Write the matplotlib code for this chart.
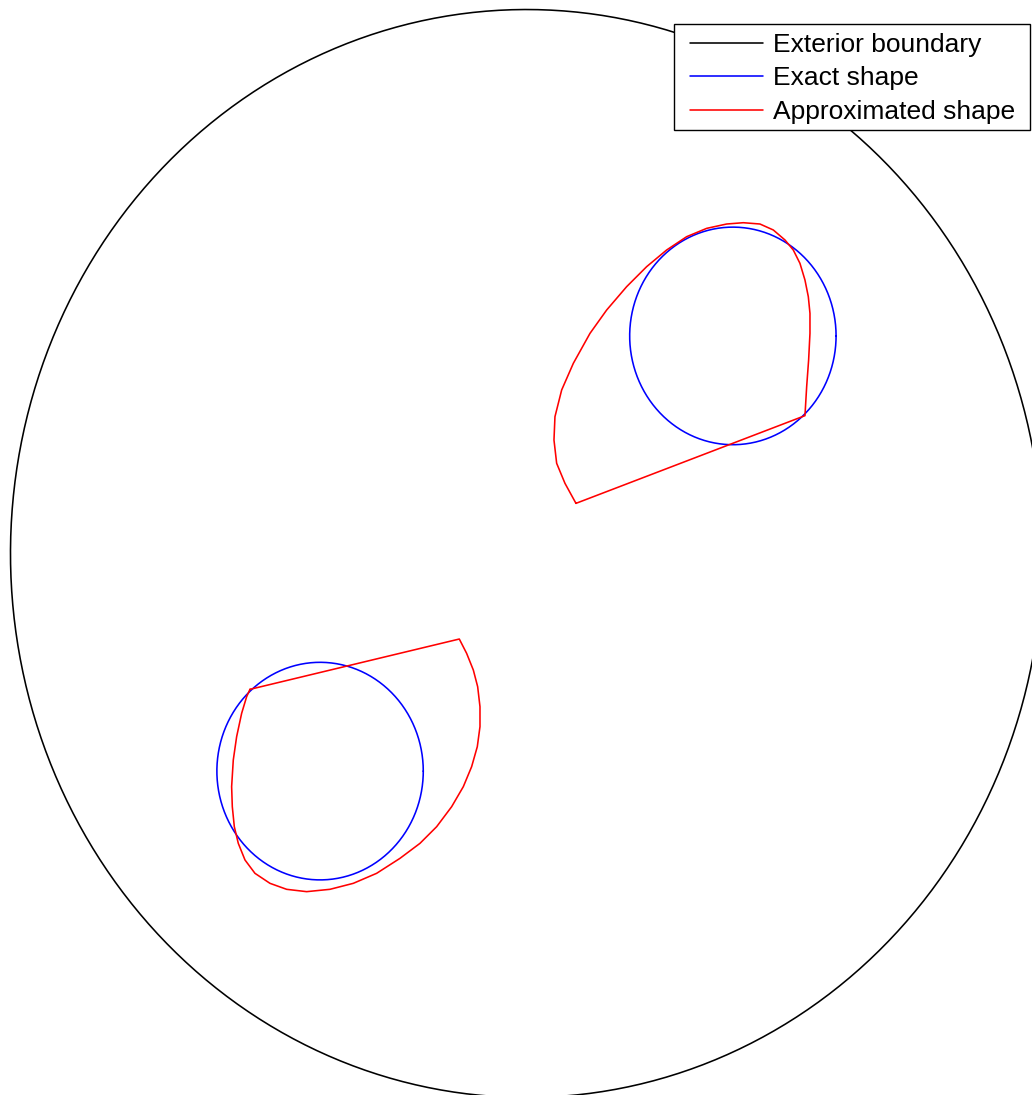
import matplotlib.pyplot as plt
import matplotlib.patches as mpatches
import numpy as np

# exterior boundary and exact inclusions (centre x, centre y, radius)
outer = (0.0, 0.0, 1.0)
exact_circles = [(0.4, 0.4, 0.2), (-0.4, -0.4, 0.2)]

# approximated shapes, points
approx1_x = [0.0959, 0.5397, 0.5430, 0.5468, 0.5494, 0.5494, 0.5462, 0.5397, 0.5300,
             0.5171, 0.5010, 0.4784, 0.4525, 0.4202, 0.3879, 0.3492, 0.3104, 0.2716,
             0.2329, 0.1941, 0.1554, 0.1231, 0.0908, 0.0682, 0.0552, 0.0533, 0.0585,
             0.0746, 0.0959]
approx1_y = [0.0922, 0.2534, 0.3067, 0.3557, 0.4047, 0.4415, 0.4721, 0.5028, 0.5334,
             0.5579, 0.5763, 0.5947, 0.6057, 0.6081, 0.6057, 0.5977, 0.5824, 0.5579,
             0.5273, 0.4905, 0.4476, 0.4047, 0.3496, 0.3006, 0.2515, 0.2086, 0.1658,
             0.1290, 0.0922]

approx2_x = [-0.5359, -0.1302, -0.1160, -0.1030, -0.0946, -0.0901, -0.0901, -0.0953,
             -0.1063, -0.1224, -0.1450, -0.1741, -0.2064, -0.2452, -0.2904, -0.3356,
             -0.3808, -0.4260, -0.4648, -0.4971, -0.5262, -0.5455, -0.5585, -0.5662,
             -0.5701, -0.5714, -0.5682, -0.5617, -0.5520, -0.5423, -0.5359]
approx2_y = [-0.2497, -0.1572, -0.1835, -0.2142, -0.2448, -0.2816, -0.3183, -0.3551,
             -0.3919, -0.4286, -0.4654, -0.5022, -0.5328, -0.5604, -0.5879, -0.6063,
             -0.6173, -0.6216, -0.6173, -0.6063, -0.5879, -0.5634, -0.5328, -0.5022,
             -0.4654, -0.4286, -0.3796, -0.3367, -0.2938, -0.2632, -0.2497]

t = np.linspace(0, 2*np.pi, 500)
lw = 1.15

fig = plt.figure(figsize=(10.32, 10.95), dpi=100)
ax = fig.add_axes([0, 0, 1, 1])

cx, cy, r = outer
ax.plot(cx + r*np.cos(t), cy + r*np.sin(t), color="black", lw=lw,
        solid_capstyle="round", label="Exterior boundary")

for i, (cx, cy, r) in enumerate(exact_circles):
    ax.plot(cx + r*np.cos(t), cy + r*np.sin(t), color="blue", lw=lw,
            solid_capstyle="round", label="Exact shape" if i == 0 else None)

ax.plot(approx1_x, approx1_y, color="red", lw=lw, solid_capstyle="round",
        label="Approximated shape")
ax.plot(approx2_x, approx2_y, color="red", lw=lw, solid_capstyle="round")

ax.set_xlim(-1.0203, 0.9797)
ax.set_ylim(-0.9954, 1.0175)
ax.axis("off")

# legend box (white, black edge) drawn separately so the padding can differ per side
W, H = 1032, 1095
box = mpatches.Rectangle((674/W, 1 - 130/H), (1030-674)/W, (130-24)/H,
                         transform=fig.transFigure, facecolor="white",
                         edgecolor="black", lw=1.0, zorder=4.5)
ax.add_patch(box)

leg = ax.legend(loc="upper left", bbox_to_anchor=(690/W, 1 - 33/H),
                bbox_transform=fig.transFigure, borderaxespad=0, borderpad=0,
                prop={"family": "Liberation Sans", "size": 19},
                handlelength=2.77, handletextpad=0.38, labelspacing=0.36,
                frameon=False)
leg.set_zorder(5)

fig.savefig("out.png", dpi=100)
